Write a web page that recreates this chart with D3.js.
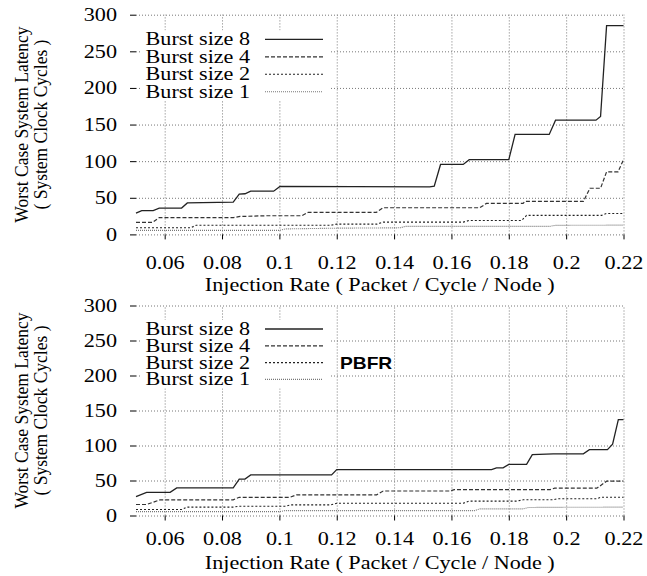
<!DOCTYPE html>
<html lang="en">
<head>
    <meta charset="UTF-8">
    <title>Worst case latency</title>
    <style>
        body { margin: 0; background: #fff; }
        .grid line { stroke: #777; stroke-dasharray: 1,2; }
        .grid path { display: none; }
        .ticks path { display: none; }
        .ticks line { stroke: #000; }
    </style>
</head>
<body>
    <script src="https://d3js.org/d3.v7.min.js"></script>
    <script>
// data
const xTicks = [0.06, 0.08, 0.1, 0.12, 0.14, 0.16, 0.18, 0.2, 0.22];
const yTicks = [0, 50, 100, 150, 200, 250, 300];
const seriesNames = ["Burst size 8", "Burst size 4", "Burst size 2", "Burst size 1"];

const topBurst8 = [[0.05,29],[0.052,32.5],[0.056,32.5],[0.0581,36],[0.0659,36],[0.0679,43],[0.0839,44],[0.086,55],[0.088,55.5],[0.090,59],[0.098,59],[0.1002,65.5],[0.1524,65],[0.154,66],[0.1562,95.5],[0.1641,95.5],[0.1662,102],[0.18,102],[0.1822,136.5],[0.1941,136.5],[0.1963,156],[0.2104,156],[0.212,161],[0.2141,285],[0.22,285]];
const topBurst4 = [[0.05,16.5],[0.0558,16.5],[0.0581,23],[0.084,23],[0.0863,24.5],[0.0956,25.5],[0.1078,25.5],[0.110,30],[0.1338,30],[0.1362,36.4],[0.1699,36.4],[0.1722,42.3],[0.185,42.3],[0.1856,45],[0.206,45],[0.2083,63],[0.212,63],[0.2141,85.5],[0.2181,85.5],[0.22,102]];
const topBurst2 = [[0.05,9],[0.069,9],[0.071,12.5],[0.118,12.5],[0.12,14],[0.134,14],[0.1362,16.8],[0.1641,16.8],[0.1662,19],[0.1845,19],[0.1862,26],[0.2124,26],[0.2141,28.6],[0.22,28.6]];
const topBurst1 = [[0.05,5.5],[0.1,5.5],[0.102,7.5],[0.12,8.5],[0.1421,9],[0.144,11],[0.1943,11],[0.196,12.3],[0.22,12.7]];

const botBurst8 = [[0.05,27],[0.0537,33],[0.0619,33],[0.0642,39.5],[0.0839,39.5],[0.086,52],[0.088,52],[0.090,58],[0.1182,58],[0.12,65.5],[0.174,65.5],[0.1757,68],[0.178,68],[0.18,73],[0.1862,73],[0.1882,87],[0.1955,88],[0.206,88],[0.2081,94],[0.2144,94],[0.2162,102],[0.2182,137],[0.22,137]];
const botBurst4 = [[0.05,15.7],[0.0537,15.7],[0.0584,22.4],[0.0839,22.4],[0.086,26],[0.1037,26],[0.106,29.5],[0.1339,29.5],[0.1362,35],[0.1595,35],[0.161,37],[0.1944,37],[0.196,39],[0.2107,39],[0.2141,49],[0.22,49]];
const botBurst2 = [[0.05,8.5],[0.066,8.5],[0.0677,12],[0.084,12],[0.086,13.3],[0.102,13.3],[0.104,15.2],[0.118,15.2],[0.12,17.5],[0.1641,17.5],[0.166,20.5],[0.1828,20.5],[0.185,22.4],[0.1955,22.4],[0.197,24],[0.2107,24],[0.212,26],[0.22,26]];
const botBurst1 = [[0.05,5.5],[0.1,5.5],[0.102,7],[0.168,7],[0.17,9.5],[0.185,9.5],[0.187,11.5],[0.22,12]];

const serif = "'Liberation Serif', 'Times New Roman', serif";
const sx = 1.2; // text in the picture is stretched sideways

const styles = [
    {stroke: "#222", dash: null, w: 1.3},
    {stroke: "#333", dash: "4,2", w: 1.2},
    {stroke: "#222", dash: "2,2", w: 1.1},
    {stroke: "#777", dash: "1,1", w: 1.1}
];

const svg = d3.select("body").append("svg")
    .attr("width", 647)
    .attr("height", 576);

function label(g, x, y, str, size, anchor, rot, stretch) {
    const k = stretch || sx;
    return g.append("text")
        .attr("transform", `translate(${x},${y}) scale(${k},1)` + (rot ? " rotate(-90)" : ""))
        .attr("text-anchor", anchor)
        .style("font-family", serif)
        .style("font-size", size + "px")
        .text(str);
}

function drawPlot(opt) {
    const x = d3.scaleLinear().domain([0.05, 0.22]).range([136, 623.5]);
    const y = d3.scaleLinear().domain([0, 300]).range([opt.y0, opt.y1]);
    const g = svg.append("g");

    // grid
    g.append("g").attr("class", "grid")
        .attr("transform", `translate(136,0)`)
        .call(d3.axisLeft(y).tickValues(yTicks).tickSize(-(623.5 - 136)).tickFormat(""));
    g.append("g").attr("class", "grid")
        .attr("transform", `translate(0,${opt.y0})`)
        .call(d3.axisBottom(x).tickValues(xTicks).tickSize(-(opt.y0 - opt.y1)).tickFormat(""));

    // ticks + labels
    const ya = g.append("g").attr("class", "ticks")
        .attr("transform", `translate(136,0)`)
        .call(d3.axisLeft(y).tickValues(yTicks).tickSize(6));
    ya.selectAll("text")
        .attr("x", null).attr("dy", null)
        .attr("transform", `translate(-19,6) scale(${sx},1)`)
        .style("font-family", serif).style("font-size", "18.5px").attr("fill", "#000");

    const xa = g.append("g").attr("class", "ticks")
        .attr("transform", `translate(0,${opt.y0})`)
        .call(d3.axisBottom(x).tickValues(xTicks).tickSize(5)
            .tickFormat(d => String(+d.toFixed(2))));
    xa.selectAll("text")
        .attr("y", null).attr("dy", null)
        .attr("transform", `translate(0,${opt.tickBase - opt.y0}) scale(${sx},1)`)
        .style("font-family", serif).style("font-size", "18.5px").attr("fill", "#000");

    // axis titles
    label(g, 379.75, opt.titleBase, "Injection Rate ( Packet / Cycle / Node )", 18.5, "middle");
    const cy = (opt.y0 + opt.y1) / 2;
    label(g, 28, cy, "Worst Case System Latency", 17.5, "middle", true, 1.1);
    label(g, 47, cy, "( System Clock Cycles )", 17.5, "middle", true, 1.1);

    // legend box hides the grid
    g.append("rect")
        .attr("x", 140).attr("y", opt.legTop - 9)
        .attr("width", 190).attr("height", opt.legStep * 3 + 18)
        .attr("fill", "#fff");

    const line = d3.line().x(d => x(d[0])).y(d => y(d[1]));
    opt.series.forEach((s, i) => {
        const st = styles[i];
        g.append("path")
            .datum(s)
            .attr("d", line)
            .attr("fill", "none")
            .attr("stroke", st.stroke)
            .attr("stroke-width", st.w)
            .attr("stroke-dasharray", st.dash);

        const ly = opt.legTop + i * opt.legStep;
        label(g, 250, ly + 6, seriesNames[i], 18, "end", false, 1.23);
        g.append("line")
            .attr("x1", 265).attr("x2", 323)
            .attr("y1", ly).attr("y2", ly)
            .attr("stroke", st.stroke)
            .attr("stroke-width", st.w)
            .attr("stroke-dasharray", st.dash);
    });
    return g;
}

drawPlot({
    y0: 234.4, y1: 14.7, tickBase: 269, titleBase: 291,
    legTop: 39.3, legStep: 17.5,
    series: [topBurst8, topBurst4, topBurst2, topBurst1]
});

const bottom = drawPlot({
    y0: 515.5, y1: 305.5, tickBase: 545, titleBase: 569,
    legTop: 329, legStep: 16.8,
    series: [botBurst8, botBurst4, botBurst2, botBurst1]
});

bottom.append("text")
    .attr("transform", `translate(340,368.5) scale(${sx},1)`)
    .style("font-family", "'Liberation Sans', Arial, sans-serif")
    .style("font-size", "16px")
    .style("font-weight", "bold")
    .text("PBFR");
    </script>
</body>
</html>
